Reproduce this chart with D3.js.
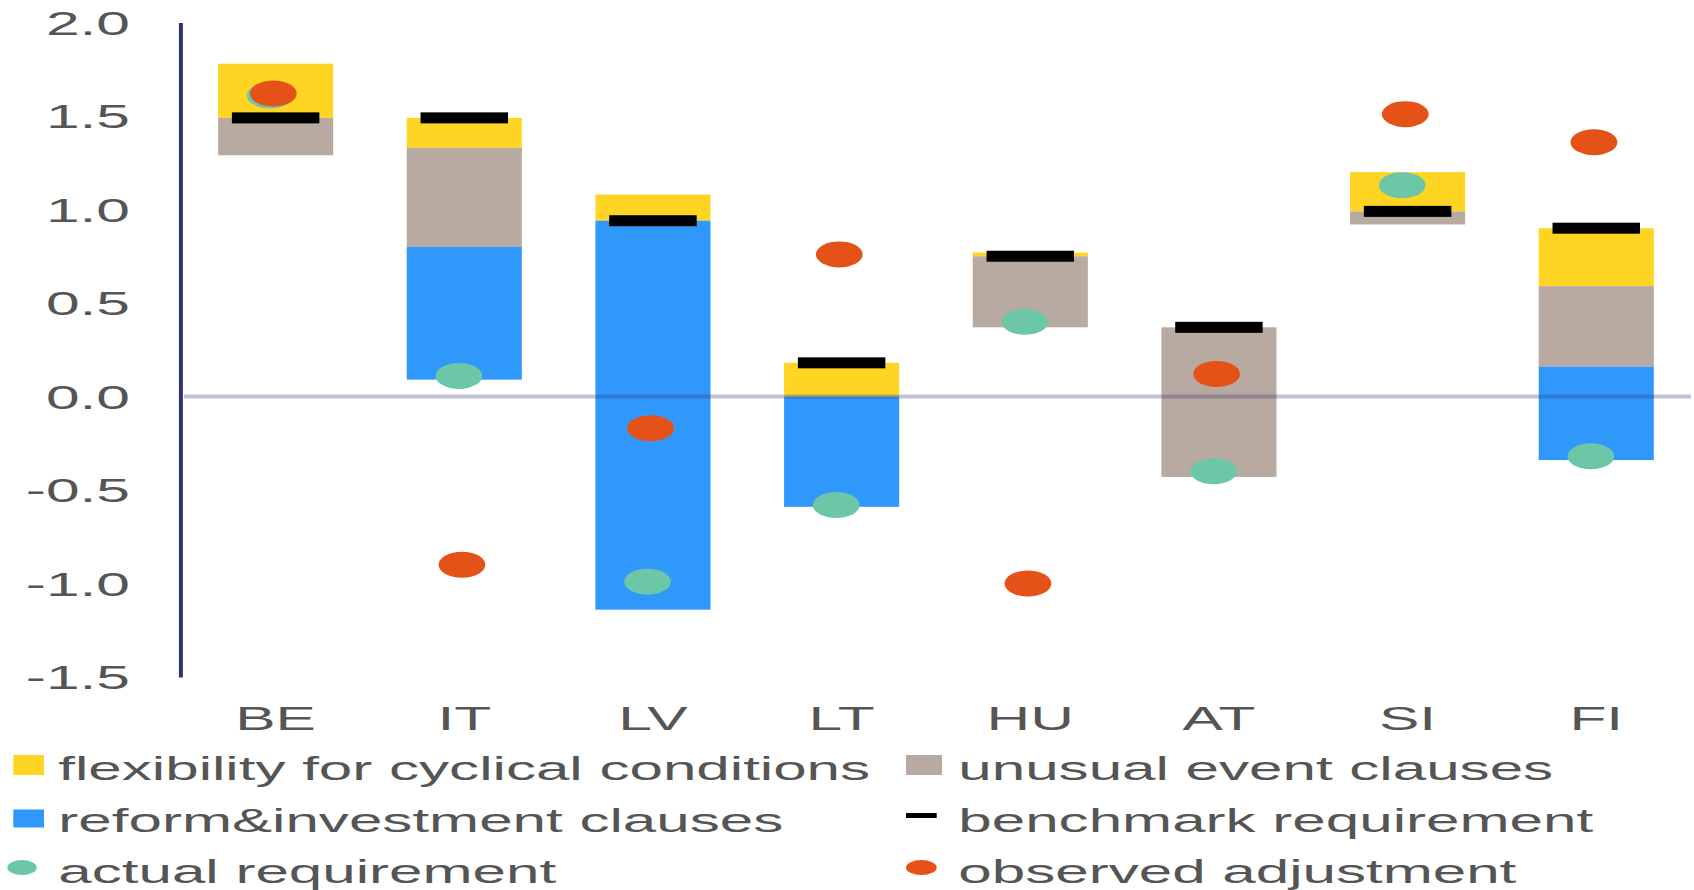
<!DOCTYPE html>
<html>
<head>
<meta charset="utf-8">
<script src="https://cdn.jsdelivr.net/npm/d3@7"></script>
<style>
  html, body { margin: 0; padding: 0; background: #fff; overflow: hidden; }
  svg { display: block; }
</style>
</head>
<body>
<svg id="chart"></svg>
<script>
// Countries along the x axis
const countries = ["BE", "IT", "LV", "LT", "HU", "AT", "SI", "FI"];

// Benchmark fiscal adjustment requirement (% of GDP)
const benchmark = [1.49, 1.49, 0.94, 0.18, 0.75, 0.37, 0.99, 0.90];

// Deviations from the benchmark, stacked out from it (positive up, negative down)
const flexibility = [0.29, -0.16, 0.14, -0.18, 0.02, 0.00, 0.21, -0.31];
const unusualEvent = [-0.20, -0.53, 0.00, 0.00, -0.38, -0.80, -0.07, -0.43];
const reformInvestment = [0.00, -0.71, -2.08, -0.59, 0.00, 0.00, 0.00, -0.50];

// Point series
const actualRequirement = [1.61, 0.11, -0.99, -0.58, 0.40, -0.40, 1.13, -0.32];
const observedAdjustment = [1.62, -0.90, -0.17, 0.76, -1.00, 0.12, 1.51, 1.36];

// Y axis ticks
const tickValues = [-1.5, -1.0, -0.5, 0.0, 0.5, 1.0, 1.5, 2.0];
const tickLabels = ["-1.5", "-1.0", "-0.5", "0.0", "0.5", "1.0", "1.5", "2.0"];

// Legend entries
const legendLabels = [
  "flexibility for cyclical conditions",
  "unusual event clauses",
  "reform&investment clauses",
  "benchmark requirement",
  "actual requirement",
  "observed adjustment"
];

const colors = {
  flexibility: "#FFD524",
  unusual: "#B8A9A1",
  reform: "#3198FB",
  benchmark: "#000000",
  actual: "#6CC6A8",
  observed: "#E55218",
  text: "#555555",
  axis: "#2F3571",
  zero: "#33337A"
};

// The drawing is laid out in a narrower coordinate space and stretched
// horizontally across the page.
const PAGE_W = 1694, PAGE_H = 890, STRETCH = 1.8;
const VW = PAGE_W / STRETCH;
const FONT = "'Liberation Sans', Arial, Helvetica, sans-serif";
const FS_AXIS = 33.6;
const FS_LEGEND = 33.4;
const sx = px => px / STRETCH; // page pixels -> drawing units (horizontal)

const svg = d3.select("#chart")
  .attr("width", PAGE_W)
  .attr("height", PAGE_H)
  .attr("viewBox", `0 0 ${VW} ${PAGE_H}`)
  .attr("preserveAspectRatio", "none")
  .style("font-family", FONT);

const x = d3.scaleBand()
  .domain(countries)
  .range([sx(181.3), sx(1690.6)])
  .paddingInner(0.39)
  .paddingOuter(0.195);

const y = d3.scaleLinear()
  .domain([-1.5, 2.0])
  .range([677, 22.5]);

// Build floating stacked segments around each country's benchmark
const components = [
  { key: "flexibility", values: flexibility, color: colors.flexibility },
  { key: "unusual", values: unusualEvent, color: colors.unusual },
  { key: "reform", values: reformInvestment, color: colors.reform }
];

const segments = [];
countries.forEach((c, i) => {
  let up = benchmark[i], down = benchmark[i];
  components.forEach(comp => {
    const v = comp.values[i];
    if (v === 0) return;
    let y0, y1;
    if (v > 0) { y0 = up; y1 = up + v; up = y1; }
    else { y0 = down; y1 = down + v; down = y1; }
    segments.push({ country: c, lo: Math.min(y0, y1), hi: Math.max(y0, y1), color: comp.color });
  });
});

svg.append("g")
  .selectAll("rect")
  .data(segments)
  .join("rect")
  .attr("x", d => x(d.country))
  .attr("width", x.bandwidth())
  .attr("y", d => y(d.hi))
  .attr("height", d => y(d.lo) - y(d.hi))
  .attr("fill", d => d.color);

// Zero line, drawn semi-transparent over the bars
svg.append("line")
  .attr("x1", sx(184))
  .attr("x2", sx(1691))
  .attr("y1", y(0))
  .attr("y2", y(0))
  .attr("stroke", colors.zero)
  .attr("stroke-opacity", 0.3)
  .attr("stroke-width", 4);

// Y axis
const yAxis = d3.axisLeft(y)
  .tickValues(tickValues)
  .tickFormat((d, i) => tickLabels[i])
  .tickSize(0)
  .tickSizeOuter(0)
  .tickPadding(sx(50));

const yAxisG = svg.append("g")
  .attr("transform", `translate(${sx(180)},0)`)
  .call(yAxis);
yAxisG.select(".domain")
  .attr("stroke", colors.axis)
  .attr("stroke-width", 2.2);
yAxisG.selectAll("text")
  .attr("fill", colors.text)
  .style("font-family", FONT)
  .style("font-size", FS_AXIS + "px")
  .attr("dy", "0.35em");

// X category labels
svg.append("g")
  .selectAll("text")
  .data(countries)
  .join("text")
  .attr("x", d => x(d) + x.bandwidth() / 2)
  .attr("y", 730)
  .attr("text-anchor", "middle")
  .attr("fill", colors.text)
  .style("font-size", FS_AXIS + "px")
  .text(d => d);

// Benchmark markers
const benchW = x.bandwidth() * 0.76;
svg.append("g")
  .selectAll("rect")
  .data(countries)
  .join("rect")
  .attr("x", d => x(d) + (x.bandwidth() - benchW) / 2)
  .attr("width", benchW)
  .attr("y", (d, i) => y(benchmark[i]) - 5.5)
  .attr("height", 11)
  .attr("fill", colors.benchmark);

// Actual requirement points
svg.append("g")
  .selectAll("circle")
  .data(countries)
  .join("circle")
  .attr("cx", d => x(d) + x.bandwidth() / 2 - 3)
  .attr("cy", (d, i) => y(actualRequirement[i]))
  .attr("r", 13)
  .attr("fill", colors.actual);

// Observed adjustment points
svg.append("g")
  .selectAll("circle")
  .data(countries)
  .join("circle")
  .attr("cx", d => x(d) + x.bandwidth() / 2 - 1.3)
  .attr("cy", (d, i) => y(observedAdjustment[i]))
  .attr("r", 13)
  .attr("fill", colors.observed);

// Legend: two columns, three rows
const colMarkX = [sx(13.3), sx(906)];
const colTextX = [sx(58.3), sx(958.3)];
const rowMid = [765, 818.5, 867.5];
const rowBase = [780, 832, 883];
const legendItems = [
  { label: legendLabels[0], type: "square", color: colors.flexibility, col: 0, row: 0, w: 30.7, h: 20 },
  { label: legendLabels[1], type: "square", color: colors.unusual, col: 1, row: 0, w: 36, h: 20 },
  { label: legendLabels[2], type: "square", color: colors.reform, col: 0, row: 1, w: 30.7, h: 18 },
  { label: legendLabels[3], type: "dash", color: colors.benchmark, col: 1, row: 1, w: 30.7, h: 5 },
  { label: legendLabels[4], type: "dot", color: colors.actual, col: 0, row: 2, w: 29.4, h: 15 },
  { label: legendLabels[5], type: "dot", color: colors.observed, col: 1, row: 2, w: 30.7, h: 15 }
];

const lg = svg.append("g")
  .selectAll("g")
  .data(legendItems)
  .join("g");

lg.filter(d => d.type !== "dot").append("rect")
  .attr("x", d => d.col === 0 ? colMarkX[0] : colMarkX[1])
  .attr("y", d => rowMid[d.row] - d.h / 2 + (d.type === "dash" ? -3 : 0))
  .attr("width", d => sx(d.w))
  .attr("height", d => d.h)
  .attr("fill", d => d.color);

lg.filter(d => d.type === "dot").append("ellipse")
  .attr("cx", d => (d.col === 0 ? sx(7.3) : colMarkX[1]) + sx(d.w) / 2)
  .attr("cy", d => rowMid[d.row])
  .attr("rx", d => sx(d.w) / 2)
  .attr("ry", d => d.h / 2)
  .attr("fill", d => d.color);

lg.append("text")
  .attr("x", d => colTextX[d.col])
  .attr("y", d => rowBase[d.row])
  .attr("fill", colors.text)
  .style("font-size", FS_LEGEND + "px")
  .text(d => d.label);
</script>
</body>
</html>
